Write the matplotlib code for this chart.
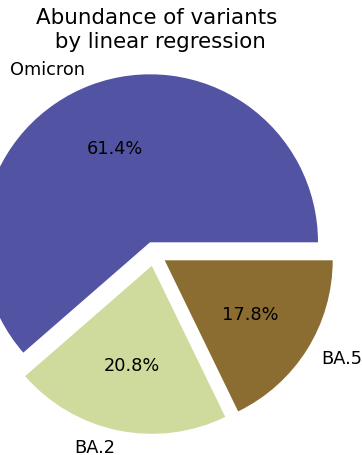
import matplotlib
matplotlib.use("Agg")
import matplotlib.pyplot as plt

# ── Data ──
variants = ["Omicron", "BA.2", "BA.5"]
shares = [61.4, 20.8, 17.8]
colors = ["#5254a3", "#cedb9c", "#8c6d31"]

# ── Layout (pixels) ──
W, H = 362, 456
R_PX = 168            # pie radius in pixels
CX, CY = 154.3, 254.8  # pie centre, pixels from top-left

fig = plt.figure(figsize=(W / 100, H / 100), dpi=100)
ax = fig.add_axes([0, 0, 1, 1])

ax.pie(
    shares,
    labels=variants,
    colors=colors,
    explode=[0.073] * len(shares),
    autopct="%1.1f%%",
    startangle=0,
    textprops={"fontsize": 12.8},
)

ax.set_xlim(-CX / R_PX, (W - CX) / R_PX)
ax.set_ylim(-(H - CY) / R_PX, CY / R_PX)
ax.set_aspect("equal", adjustable="datalim")
ax.axis("off")

fig.text(157 / W, 1 - 8.5 / H, "Abundance of variants\n by linear regression",
         ha="center", va="top", fontsize=15.4)

fig.savefig("out.png", dpi=100)
